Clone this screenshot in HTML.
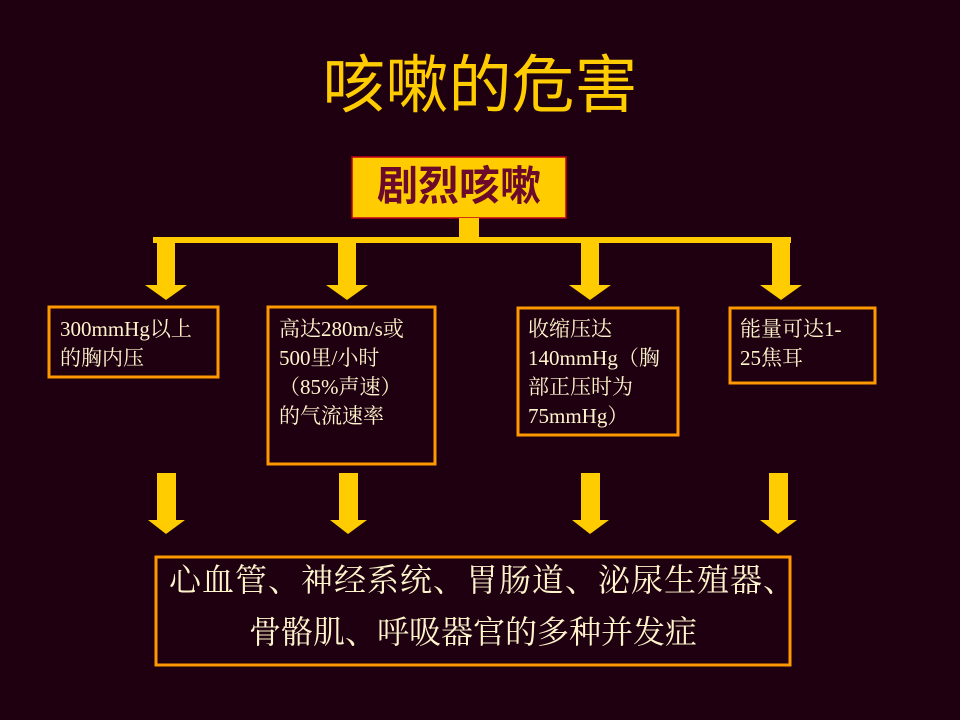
<!DOCTYPE html>
<html><head><meta charset="utf-8"><style>
body{margin:0;background:#1e0010;}
#c{position:relative;width:960px;height:720px;background:#1e0010;overflow:hidden;font-family:"Liberation Serif","Noto Serif CJK SC",serif;color:#fff4cc;}
.t{position:absolute;white-space:nowrap;}
.b{font-size:21px;line-height:29px;}
</style></head><body><div id="c">
<svg width="960" height="720" style="position:absolute;left:0;top:0">
<rect x="352" y="157" width="214" height="61" fill="#ffcc00" stroke="#c0001a" stroke-width="1.5"/>
<rect x="459" y="218" width="20" height="21" fill="#ffcc00"/>
<rect x="153" y="237" width="638" height="6" fill="#ffcc00"/>
<g fill="#ffcc00">
<rect x="157" y="243" width="18" height="43"/><polygon points="145,285 187,285 166,300"/>
<rect x="338" y="243" width="18" height="43"/><polygon points="326,285 368,285 347,300"/>
<rect x="581" y="243" width="18" height="43"/><polygon points="569,285 611,285 590,300"/>
<rect x="772" y="243" width="18" height="43"/><polygon points="760,285 802,285 781,300"/>
<rect x="157" y="473" width="19" height="47"/><polygon points="148,520 185,520 166,534"/>
<rect x="339" y="473" width="19" height="47"/><polygon points="330,520 367,520 348,534"/>
<rect x="581" y="473" width="19" height="47"/><polygon points="572,520 609,520 590,534"/>
<rect x="769" y="473" width="19" height="47"/><polygon points="760,520 797,520 778,534"/>
</g>
<g fill="none" stroke="#ff9900" stroke-width="3">
<rect x="49" y="307" width="169" height="70"/>
<rect x="268" y="307" width="167" height="157"/>
<rect x="518" y="308" width="160" height="127"/>
<rect x="730" y="308" width="145" height="75"/>
<rect x="156" y="557" width="634" height="108"/>
</g>
</svg>
<div class="t" style="left:0;width:960px;text-align:center;top:46px;font-size:63px;line-height:80px;color:#ffcc00;font-family:'Liberation Sans','Noto Sans CJK SC',sans-serif;">咳嗽的危害</div>
<div class="t" style="left:352px;width:214px;text-align:center;top:161px;font-size:41px;line-height:50px;color:#6b0a2a;font-weight:bold;font-family:'Liberation Sans','Noto Sans CJK SC',sans-serif;">剧烈咳嗽</div>
<div class="t b" style="left:60px;top:315px;">300mmHg以上<br>的胸内压</div>
<div class="t b" style="left:279px;top:315px;">高达280m/s或<br>500里/小时<br>（85%声速）<br>的气流速率</div>
<div class="t b" style="left:528px;top:315px;">收缩压达<br>140mmHg（胸<br>部正压时为<br>75mmHg）</div>
<div class="t b" style="left:740px;top:315px;">能量可达1-<br>25焦耳</div>
<div class="t" style="left:169px;top:561px;font-size:32px;line-height:38px;letter-spacing:1px;">心血管、神经系统、胃肠道、泌尿生殖器、</div>
<div class="t" style="left:249px;top:613px;font-size:32px;line-height:38px;">骨骼肌、呼吸器官的多种并发症</div>
</div></body></html>
